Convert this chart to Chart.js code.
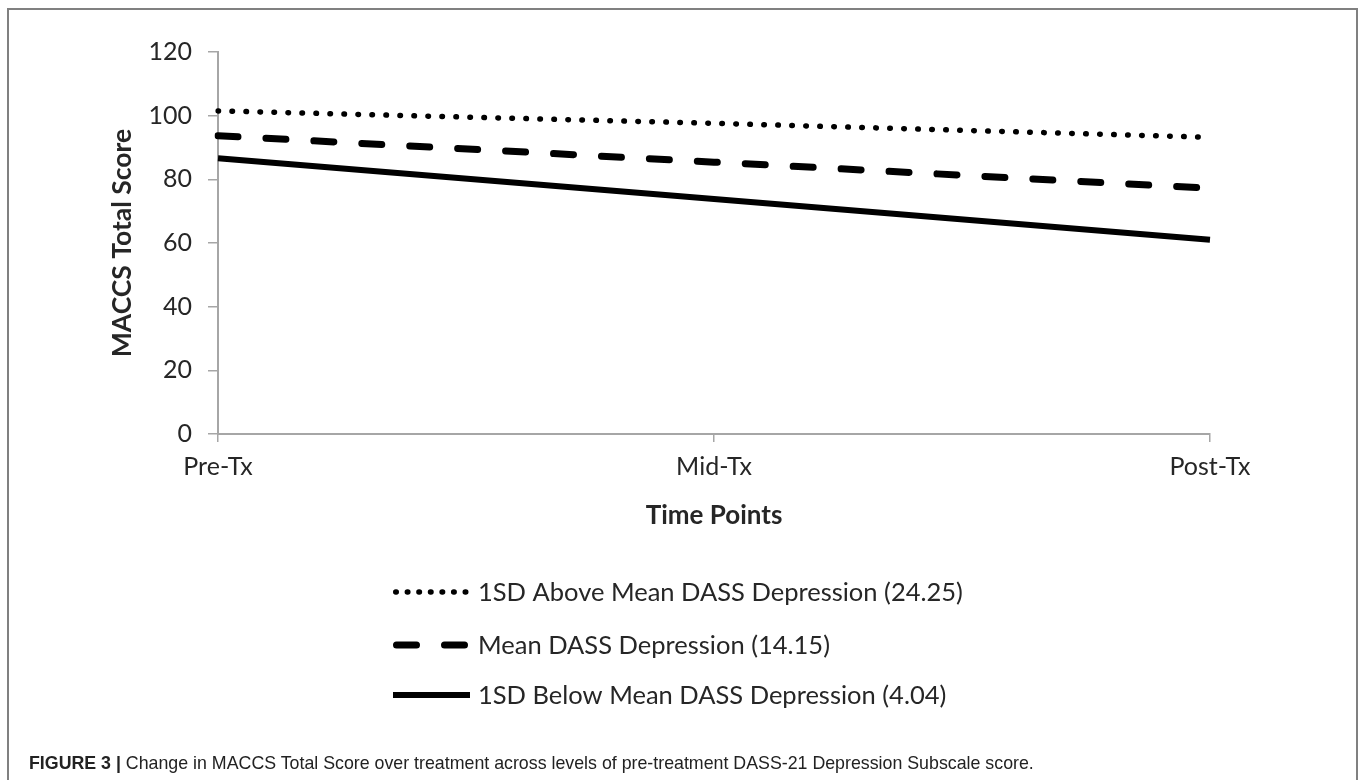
<!DOCTYPE html>
<html><head><meta charset="utf-8">
<script src="https://cdn.jsdelivr.net/npm/chart.js@4.4.0/dist/chart.umd.min.js"></script>
<style>
html,body{margin:0;padding:0;background:#fff;width:1362px;height:780px;overflow:hidden;}
#frame{position:absolute;left:7px;top:8px;width:1347px;height:800px;border:2px solid #808080;border-bottom:none;}
#wrap{position:absolute;left:0;top:0;width:1362px;height:780px;}
#caption{position:absolute;left:29px;top:755px;font-family:"Liberation Sans",Arial,sans-serif;font-size:17.8px;line-height:1;color:#222;white-space:nowrap;}
</style></head><body>
<div id="frame"></div>
<div id="wrap"><canvas id="c" width="1362" height="780"></canvas></div>
<div id="caption"><b>FIGURE 3 |</b> Change in MACCS Total Score over treatment across levels of pre-treatment DASS-21 Depression Subscale score.</div>
<script>
const categories = ['Pre-Tx', 'Mid-Tx', 'Post-Tx'];
const seriesNames = ['1SD Above Mean DASS Depression (24.25)', 'Mean DASS Depression (14.15)', '1SD Below Mean DASS Depression (4.04)'];
const aboveMean = [101.5, 97.6, 93.2];
const meanDass = [93.7, 85.4, 77.2];
const belowMean = [86.6, 73.8, 61.0];
const yMin = 0, yMax = 120, yStep = 20;
const yTitle = 'MACCS Total Score';
const xTitle = 'Time Points';

const FONT = 'Lato, "Open Sans", sans-serif';
const TEXT = '#262626';
const AXIS = '#a6a6a6';

const legendPlugin = {
  id: 'stackedLegend',
  afterDraw(chart) {
    const ctx = chart.ctx;
    const area = chart.chartArea;
    const x0 = 393, x1 = 468, tx = 478;
    const rows = [area.bottom + 158, area.bottom + 211, area.bottom + 261];
    chart.data.datasets.forEach((ds, i) => {
      ctx.save();
      ctx.strokeStyle = ds.borderColor;
      ctx.lineWidth = ds.borderWidth;
      ctx.lineCap = ds.borderCapStyle || 'butt';
      let dash = ds.borderDash || [];
      const inset = ds.borderCapStyle === 'round' ? ds.borderWidth / 2 : 0;
      if (dash.length && dash[0] < 1) {
        const span = (x1 - inset) - (x0 + inset);
        dash = [dash[0], span / 6 - dash[0]];
      }
      ctx.setLineDash(dash);
      ctx.beginPath();
      ctx.moveTo(x0 + inset, rows[i]);
      ctx.lineTo(x1 - inset + (ds.borderDash ? 0.6 : 2), rows[i]);
      ctx.stroke();
      ctx.restore();
      ctx.save();
      ctx.fillStyle = TEXT;
      ctx.font = '25.5px ' + FONT;
      ctx.textBaseline = 'middle';
      ctx.fillText(ds.label, tx, rows[i] + 1);
      ctx.restore();
    });
  }
};

new Chart(document.getElementById('c'), {
  type: 'line',
  data: {
    labels: categories,
    datasets: [
      { label: seriesNames[0], data: aboveMean, borderColor: '#000', borderWidth: 5.5, borderDash: [0.5, 13.5], borderCapStyle: 'round', pointRadius: 0, tension: 0 },
      { label: seriesNames[1], data: meanDass, borderColor: '#000', borderWidth: 7, borderDash: [20, 28], borderCapStyle: 'round', pointRadius: 0, tension: 0 },
      { label: seriesNames[2], data: belowMean, borderColor: '#000', borderWidth: 6, borderCapStyle: 'butt', pointRadius: 0, tension: 0 }
    ]
  },
  options: {
    responsive: false,
    animation: false,
    devicePixelRatio: 1,
    layout: { padding: { left: 0, top: 52, right: 152, bottom: 246 } },
    plugins: { legend: { display: false }, tooltip: { enabled: false } },
    scales: {
      x: {
        type: 'category',
        offset: false,
        afterFit(s) { s.height = 100; },
        grid: { drawOnChartArea: false, drawTicks: true, tickLength: 8, color: AXIS, lineWidth: 1.5 },
        border: { display: true, color: AXIS, width: 2 },
        ticks: { color: TEXT, font: { family: FONT, size: 25 }, padding: 10, maxRotation: 0 },
        title: { display: true, text: xTitle, color: TEXT, font: { family: FONT, size: 26, weight: 'bold' }, padding: { top: 0, bottom: 3 } }
      },
      y: {
        min: yMin, max: yMax,
        afterFit(s) { s.width = 218; },
        grid: { drawOnChartArea: false, drawTicks: true, tickLength: 10, color: AXIS, lineWidth: 1.5 },
        border: { display: true, color: AXIS, width: 2 },
        ticks: { stepSize: yStep, color: TEXT, font: { family: FONT, size: 25 }, padding: 16 },
        title: { display: true, text: yTitle, color: TEXT, font: { family: FONT, size: 26.5, weight: 'bold' }, padding: { top: 107, bottom: 0 } }
      }
    }
  },
  plugins: [legendPlugin]
});
</script>
</body></html>
